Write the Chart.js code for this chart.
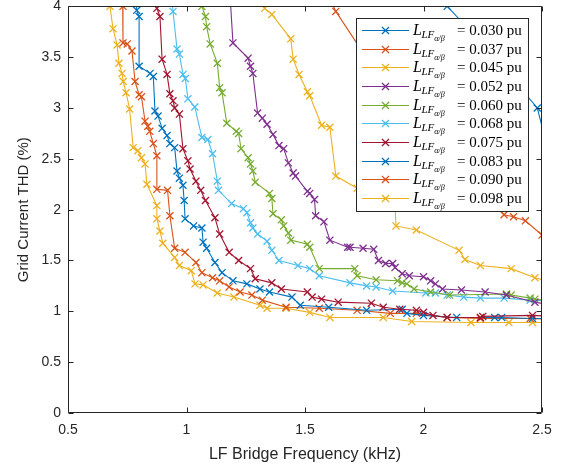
<!DOCTYPE html>
<html>
<head>
<meta charset="utf-8">
<script src="https://cdn.jsdelivr.net/npm/chart.js@4/dist/chart.umd.min.js"></script>
<style>
  html, body { margin: 0; padding: 0; background: #fff; }
  #wrap { width: 568px; height: 470px; }
</style>
</head>
<body>
<div id="wrap"><canvas id="thd" width="568" height="470"></canvas></div>
<script>
// LF bridge frequency (kHz) and grid current THD (%) per filter inductance
const freq030 = [2.04, 2.10, 2.30, 2.48, 2.53];
const thd030  = [4.30, 4.00, 3.50, 3.00, 2.55];

const freq037 = [1.59, 1.63, 1.80, 2.00, 2.20, 2.34, 2.38, 2.43, 2.50, 2.55];
const thd037  = [4.15, 3.95, 3.35, 2.75, 2.25, 1.95, 1.93, 1.89, 1.75, 1.65];

const freq045 = [1.30, 1.33, 1.36, 1.44, 1.45, 1.475, 1.51, 1.52, 1.57, 1.605, 1.63, 1.72, 1.88, 1.884, 1.97, 2.15, 2.175, 2.24, 2.37, 2.47, 2.55];
const thd045  = [4.15, 3.98, 3.92, 3.68, 3.48, 3.33, 3.16, 3.12, 2.83, 2.81, 2.33, 2.21, 2.02, 1.84, 1.80, 1.60, 1.51, 1.45, 1.42, 1.33, 1.28];

const freq052 = [1.18, 1.196, 1.26, 1.27, 1.28, 1.30, 1.32, 1.34, 1.365, 1.39, 1.41, 1.43, 1.45, 1.46, 1.51, 1.52, 1.54, 1.545, 1.58, 1.605, 1.68, 1.69, 1.745, 1.79, 1.81, 1.84, 1.87, 1.88, 1.91, 1.94, 2.00, 2.03, 2.05, 2.08, 2.16, 2.26, 2.35, 2.47, 2.55];
const thd052  = [4.25, 3.64, 3.49, 3.41, 3.34, 2.95, 2.90, 2.84, 2.74, 2.63, 2.60, 2.46, 2.36, 2.33, 2.18, 2.16, 2.10, 1.94, 1.88, 1.70, 1.63, 1.63, 1.62, 1.61, 1.50, 1.47, 1.47, 1.43, 1.37, 1.35, 1.34, 1.30, 1.27, 1.22, 1.21, 1.19, 1.16, 1.09, 1.06];

const freq060 = [1.06, 1.065, 1.08, 1.085, 1.10, 1.13, 1.14, 1.15, 1.17, 1.21, 1.22, 1.23, 1.26, 1.27, 1.28, 1.29, 1.35, 1.36, 1.365, 1.40, 1.41, 1.43, 1.44, 1.51, 1.52, 1.56, 1.71, 1.72, 1.80, 1.89, 1.91, 1.93, 1.96, 2.03, 2.11, 2.35, 2.37, 2.45, 2.47, 2.55];
const thd060  = [4.20, 4.00, 3.90, 3.80, 3.63, 3.44, 3.20, 3.15, 2.85, 2.77, 2.75, 2.60, 2.51, 2.45, 2.38, 2.27, 2.16, 2.11, 1.96, 1.90, 1.84, 1.77, 1.70, 1.66, 1.63, 1.42, 1.42, 1.35, 1.31, 1.30, 1.28, 1.27, 1.22, 1.19, 1.16, 1.17, 1.16, 1.13, 1.12, 1.10];

const freq068 = [0.935, 0.943, 0.96, 0.97, 0.985, 0.995, 1.006, 1.035, 1.065, 1.09, 1.11, 1.13, 1.135, 1.19, 1.24, 1.255, 1.27, 1.28, 1.30, 1.34, 1.36, 1.39, 1.47, 1.52, 1.56, 1.69, 1.76, 1.80, 1.87, 2.01, 2.05, 2.10, 2.17, 2.24, 2.34, 2.45, 2.55];
const thd068  = [4.20, 3.95, 3.58, 3.53, 3.33, 3.29, 3.09, 3.01, 2.71, 2.69, 2.55, 2.28, 2.19, 2.06, 2.01, 1.97, 1.87, 1.82, 1.76, 1.69, 1.60, 1.50, 1.45, 1.42, 1.35, 1.28, 1.25, 1.24, 1.20, 1.18, 1.18, 1.16, 1.14, 1.13, 1.13, 1.11, 1.10];

const freq075 = [0.87, 0.875, 0.888, 0.897, 0.918, 0.93, 0.943, 0.95, 0.97, 0.985, 1.006, 1.015, 1.04, 1.06, 1.08, 1.12, 1.14, 1.18, 1.22, 1.27, 1.29, 1.36, 1.40, 1.51, 1.53, 1.57, 1.64, 1.78, 1.83, 1.90, 1.97, 2.00, 2.04, 2.10, 2.24, 2.25, 2.46, 2.55];
const thd075  = [4.20, 3.98, 3.90, 3.48, 3.33, 3.14, 3.07, 3.00, 2.94, 2.60, 2.48, 2.40, 2.28, 2.19, 2.09, 1.92, 1.76, 1.58, 1.50, 1.42, 1.32, 1.28, 1.22, 1.19, 1.14, 1.12, 1.09, 1.08, 1.04, 1.02, 1.01, 0.99, 0.96, 0.94, 0.94, 0.95, 0.96, 0.95];

const freq083 = [0.785, 0.79, 0.80, 0.80, 0.846, 0.86, 0.867, 0.88, 0.897, 0.918, 0.93, 0.95, 0.96, 0.97, 0.985, 0.99, 0.994, 1.03, 1.065, 1.07, 1.085, 1.12, 1.15, 1.196, 1.255, 1.31, 1.35, 1.445, 1.48, 1.60, 1.76, 1.91, 1.93, 2.00, 2.14, 2.30, 2.33, 2.46, 2.55];
const thd083  = [4.20, 3.96, 3.90, 3.41, 3.34, 3.31, 2.97, 2.92, 2.80, 2.73, 2.65, 2.61, 2.38, 2.31, 2.24, 2.09, 1.91, 1.84, 1.82, 1.68, 1.62, 1.48, 1.38, 1.30, 1.27, 1.22, 1.19, 1.14, 1.06, 1.04, 1.01, 1.02, 0.98, 0.96, 0.94, 0.94, 0.94, 0.93, 0.93];

const freq090 = [0.73, 0.732, 0.732, 0.75, 0.77, 0.783, 0.80, 0.81, 0.825, 0.837, 0.845, 0.86, 0.875, 0.875, 0.92, 0.93, 0.95, 0.994, 1.04, 1.065, 1.11, 1.14, 1.18, 1.226, 1.276, 1.32, 1.42, 1.56, 1.72, 1.86, 1.97, 2.10, 2.24, 2.45, 2.55];
const thd090  = [4.20, 4.00, 3.64, 3.63, 3.56, 3.26, 3.13, 3.11, 2.87, 2.82, 2.77, 2.65, 2.53, 2.20, 2.19, 1.94, 1.62, 1.58, 1.48, 1.38, 1.33, 1.30, 1.24, 1.19, 1.16, 1.11, 1.04, 1.03, 1.01, 0.98, 0.98, 0.94, 0.93, 0.93, 0.92];

const freq098 = [0.67, 0.677, 0.69, 0.707, 0.715, 0.728, 0.733, 0.745, 0.76, 0.775, 0.795, 0.81, 0.825, 0.833, 0.875, 0.875, 0.888, 0.90, 0.95, 0.97, 1.02, 1.036, 1.07, 1.13, 1.20, 1.31, 1.34, 1.42, 1.52, 1.605, 1.83, 1.95, 2.20, 2.36, 2.46, 2.55];
const thd098  = [4.20, 4.00, 3.78, 3.62, 3.44, 3.34, 3.26, 3.15, 2.99, 2.61, 2.58, 2.51, 2.45, 2.25, 2.04, 1.91, 1.79, 1.67, 1.53, 1.45, 1.40, 1.27, 1.26, 1.18, 1.14, 1.06, 1.03, 1.03, 0.99, 0.94, 0.94, 0.90, 0.89, 0.89, 0.89, 0.89];

const inductances = ['0.030', '0.037', '0.045', '0.052', '0.060', '0.068', '0.075', '0.083', '0.090', '0.098'];
const xSeries = [freq030, freq037, freq045, freq052, freq060, freq068, freq075, freq083, freq090, freq098];
const ySeries = [thd030, thd037, thd045, thd052, thd060, thd068, thd075, thd083, thd090, thd098];
const xTicks = [0.5, 1, 1.5, 2, 2.5];
const yTicks = [0, 0.5, 1, 1.5, 2, 2.5, 3, 3.5, 4];

// matlab default line order, cycles after 7
const palette = ['#0072BD', '#D95319', '#EDB120', '#7E2F8E', '#77AC30', '#4DBEEE', '#A2142F'];
const axisColor = '#262626';
const sans = '"Liberation Sans", Arial, sans-serif';
const serif = '"Liberation Serif", "Times New Roman", serif';

const datasets = inductances.map((l, i) => ({
    label: l,
    data: xSeries[i].map((x, j) => ({ x, y: ySeries[i][j] })),
    borderColor: palette[i % 7],
    backgroundColor: palette[i % 7],
    borderWidth: 1.1,
    pointStyle: 'crossRot',
    pointRadius: 5,
    pointBorderWidth: 1.3,
    pointHoverRadius: 5,
    tension: 0,
    fill: false,
}));

// box + inward ticks on all four sides, like matlab "box on"
const framePlugin = {
    id: 'frame',
    afterDatasetsDraw(chart) {
        const { ctx, chartArea: a, scales } = chart;
        const L = Math.round(a.left) + 0.5, R = Math.round(a.right) - 0.5;
        const T = Math.round(a.top) + 0.5, B = Math.round(a.bottom) - 0.5;
        const len = 5;
        ctx.save();
        ctx.strokeStyle = axisColor;
        ctx.lineWidth = 1;
        ctx.beginPath();
        ctx.rect(L, T, R - L, B - T);
        scales.x.ticks.forEach((t) => {
            const px = Math.round(scales.x.getPixelForValue(t.value)) + 0.5;
            ctx.moveTo(px, B); ctx.lineTo(px, B - len);
            ctx.moveTo(px, T); ctx.lineTo(px, T + len);
        });
        scales.y.ticks.forEach((t) => {
            const py = Math.round(scales.y.getPixelForValue(t.value)) + 0.5;
            ctx.moveTo(L, py); ctx.lineTo(L + len, py);
            ctx.moveTo(R, py); ctx.lineTo(R - len, py);
        });
        ctx.stroke();
        ctx.restore();
    },
};

// opaque legend with the latex-style labels
const legendPlugin = {
    id: 'texLegend',
    afterDraw(chart) {
        const { ctx } = chart;
        const box = { x: 356, y: 18, w: 172, h: 193 };
        const rowH = 18.67;
        ctx.save();
        ctx.fillStyle = '#fff';
        ctx.fillRect(box.x, box.y, box.w, box.h);
        ctx.strokeStyle = axisColor;
        ctx.lineWidth = 1;
        ctx.strokeRect(box.x + 0.5, box.y + 0.5, box.w, box.h);

        chart.data.datasets.forEach((ds, i) => {
            const cy = Math.round(box.y + 12 + i * rowH) + 0.5;
            ctx.strokeStyle = ds.borderColor;
            ctx.lineWidth = 1.1;
            ctx.beginPath();
            ctx.moveTo(362, cy); ctx.lineTo(409, cy);
            ctx.stroke();
            const mx = 385.5, r = 5 * Math.SQRT1_2;
            ctx.lineWidth = 1.3;
            ctx.beginPath();
            ctx.moveTo(mx - r, cy - r); ctx.lineTo(mx + r, cy + r);
            ctx.moveTo(mx - r, cy + r); ctx.lineTo(mx + r, cy - r);
            ctx.stroke();

            const base = cy + 4.5;
            let x = 413;
            ctx.fillStyle = '#000';
            ctx.textBaseline = 'alphabetic';
            ctx.textAlign = 'left';
            ctx.font = 'italic 16px ' + serif;
            ctx.fillText('L', x, base);
            x += ctx.measureText('L').width - 0.5;
            ctx.font = 'italic 11px ' + serif;
            ctx.fillText('LF', x, base + 3);
            x += ctx.measureText('LF').width;
            ctx.font = 'italic 8px ' + serif;
            ctx.fillText('α/β', x, base + 6);
            ctx.font = '15px ' + serif;
            ctx.fillText('= ' + ds.label + ' pu', 457, base);
        });
        ctx.restore();
    },
};

new Chart(document.getElementById('thd'), {
    type: 'line',
    data: { datasets },
    plugins: [framePlugin, legendPlugin],
    options: {
        responsive: false,
        animation: false,
        events: [],
        layout: { padding: { top: 5, right: 26, left: 0, bottom: 0 } },
        plugins: { legend: { display: false }, tooltip: { enabled: false } },
        scales: {
            x: {
                type: 'linear',
                min: 0.5,
                max: 2.5,
                afterBuildTicks: (s) => { s.ticks = xTicks.map((v) => ({ value: v })); },
                afterFit: (s) => { s.height = 57; s.paddingLeft = 0; s.paddingRight = 0; },
                grid: { display: false, drawTicks: false },
                border: { display: false },
                ticks: {
                    padding: 9,
                    color: axisColor,
                    font: { family: sans, size: 14 },
                    maxRotation: 0,
                    callback: (v) => String(v),
                },
                title: {
                    display: true,
                    text: 'LF Bridge Frequency (kHz)',
                    color: axisColor,
                    font: { family: sans, size: 16 },
                    padding: { top: 0, bottom: 6 },
                },
            },
            y: {
                type: 'linear',
                min: 0,
                max: 4,
                afterBuildTicks: (s) => { s.ticks = yTicks.map((v) => ({ value: v })); },
                afterFit: (s) => { s.width = 68; s.paddingTop = 0; s.paddingBottom = 0; },
                grid: { display: false, drawTicks: false },
                border: { display: false },
                ticks: {
                    padding: 7,
                    color: axisColor,
                    font: { family: sans, size: 14 },
                    callback: (v) => String(v),
                },
                title: {
                    display: true,
                    text: 'Grid Current THD (%)',
                    color: axisColor,
                    font: { family: sans, size: 15 },
                    padding: { top: 15, bottom: 0 },
                },
            },
        },
    },
});
</script>
</body>
</html>
